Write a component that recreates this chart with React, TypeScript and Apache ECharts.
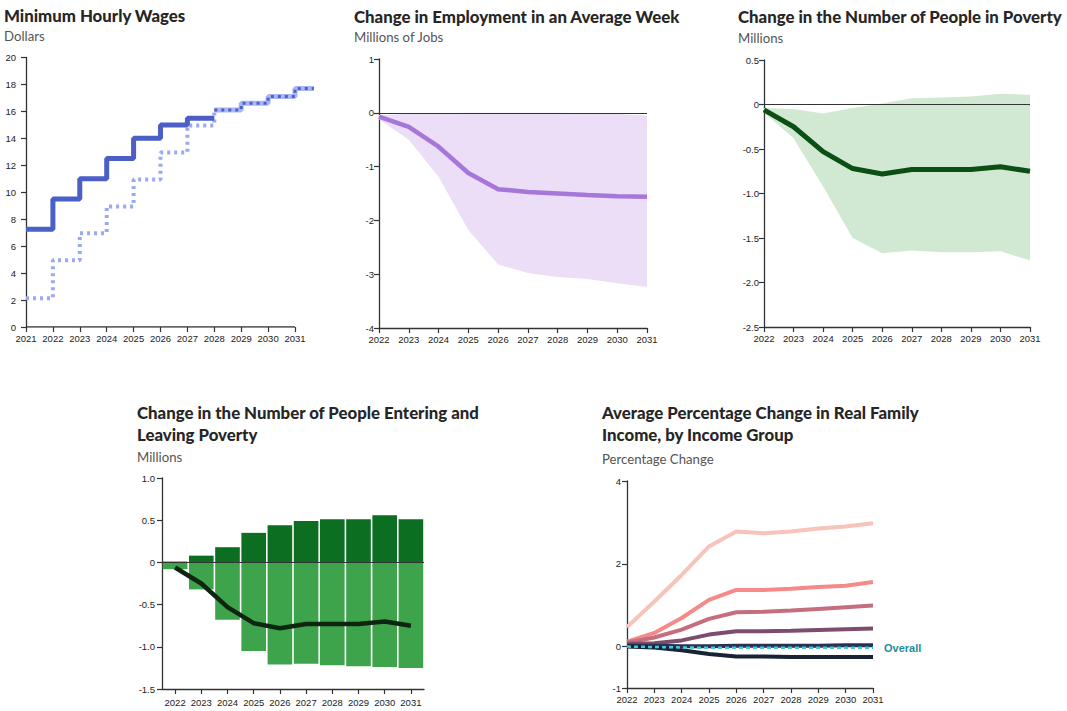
import React, { useEffect, useRef } from "react";
import * as echarts from "echarts";

// ---------- data ----------
const wageTicks = [2021, 2022, 2023, 2024, 2025, 2026, 2027, 2028, 2029, 2030, 2031];
const wageYears = [2021, 2022, 2023, 2024, 2025, 2026, 2027, 2028];
const wageFull = [7.25, 9.5, 11, 12.5, 14, 15, 15.5, 15.5];
const wageTipped = [2.13, 4.95, 6.95, 8.95, 10.95, 12.95, 14.95, 16.1];
const projYears = [2028, 2029, 2030, 2031, 2031.7];
const projWage = [16.1, 16.6, 17.1, 17.7, 17.7];
const wageAxisEnds = [2021, 2031];

const years = ["2022", "2023", "2024", "2025", "2026", "2027", "2028", "2029", "2030", "2031"];

const empLine = [-0.07, -0.26, -0.63, -1.12, -1.42, -1.47, -1.5, -1.53, -1.55, -1.56];
const empLow = [-0.12, -0.5, -1.19, -2.18, -2.82, -2.98, -3.05, -3.09, -3.17, -3.24];
const empHigh = [-0.04, -0.02, -0.01, 0, 0, 0, 0, -0.01, -0.02, -0.05];

const povLine = [-0.06, -0.25, -0.53, -0.72, -0.78, -0.73, -0.73, -0.73, -0.7, -0.75];
const povLow = [-0.09, -0.38, -0.92, -1.5, -1.67, -1.64, -1.66, -1.66, -1.65, -1.75];
const povHigh = [-0.04, -0.05, -0.1, -0.04, 0.01, 0.07, 0.08, 0.09, 0.12, 0.11];

const entering = [0.01, 0.08, 0.18, 0.35, 0.44, 0.49, 0.51, 0.51, 0.56, 0.51];
const leaving = [-0.08, -0.32, -0.68, -1.05, -1.21, -1.2, -1.22, -1.23, -1.24, -1.25];
const netPoverty = [-0.06, -0.25, -0.53, -0.72, -0.78, -0.73, -0.73, -0.73, -0.7, -0.75];

const incGroup1 = [0.47, 1.09, 1.73, 2.42, 2.78, 2.74, 2.78, 2.85, 2.9, 2.98];
const incGroup2 = [0.12, 0.33, 0.69, 1.13, 1.37, 1.37, 1.4, 1.44, 1.47, 1.56];
const incGroup3 = [0.1, 0.22, 0.41, 0.67, 0.83, 0.84, 0.87, 0.91, 0.95, 0.99];
const incGroup4 = [0.06, 0.08, 0.15, 0.29, 0.37, 0.37, 0.38, 0.4, 0.42, 0.44];
const incGroup5 = [0.02, 0.02, 0.01, 0.01, 0.02, 0.02, 0.02, 0.02, 0.03, 0.03];
const incOverall = [0.0, -0.01, -0.02, -0.03, -0.03, -0.03, -0.03, -0.03, -0.03, -0.03];
const incGroup6 = [0.0, -0.02, -0.09, -0.18, -0.24, -0.24, -0.25, -0.25, -0.25, -0.25];

// ---------- styles ----------
const TITLE_FONT = "Lato, 'Noto Sans', sans-serif";
const TICK_FONT = "'Liberation Sans', Arial, sans-serif";
const AXIS_COLOR = "#333";

const zip = (xs: number[], ys: number[]) => xs.map((x, i) => [x, ys[i]]);
const diff = (a: number[], b: number[]) => a.map((v, i) => +(v - b[i]).toFixed(3));

function axisBase(margin: number) {
  return {
    axisLine: { show: true, onZero: false, lineStyle: { color: AXIS_COLOR, width: 1.3 } },
    axisTick: { show: true, length: 5, lineStyle: { color: AXIS_COLOR, width: 1.2 } },
    splitLine: { show: false },
    axisLabel: { fontSize: 9.5, color: "#222", fontFamily: TICK_FONT, margin, interval: 0 },
  };
}

const fmt1 = (v: number) => (v === 0 ? "0" : v.toFixed(1));

function titleItem(text: string, left: number, top: number, sub = false) {
  return {
    text,
    left,
    top,
    padding: 0,
    textStyle: sub
      ? { fontFamily: TITLE_FONT, fontSize: 13.2, fontWeight: "normal", color: "#555" }
      : { fontFamily: TITLE_FONT, fontSize: 16.8, fontWeight: 900, color: "#262626", lineHeight: 21.5 },
  };
}

function bandSeries(idx: number, low: number[], high: number[], color: string, stack: string) {
  return [
    {
      type: "line",
      xAxisIndex: idx,
      yAxisIndex: idx,
      data: low,
      stack,
      stackStrategy: "all",
      symbol: "none",
      lineStyle: { opacity: 0 },
      silent: true,
    },
    {
      type: "line",
      xAxisIndex: idx,
      yAxisIndex: idx,
      data: diff(high, low),
      stack,
      stackStrategy: "all",
      symbol: "none",
      lineStyle: { opacity: 0 },
      areaStyle: { color, opacity: 1 },
      silent: true,
    },
  ];
}

const zeroLine = {
  silent: true,
  symbol: "none",
  label: { show: false },
  lineStyle: { color: "#333", width: 1.2, type: "solid" },
  data: [{ yAxis: 0 }],
};

function buildOption() {
  const wageXMax = projYears[projYears.length - 1];
  const pxPerYear = 26.9;
  const grids = [
    { left: 26, top: 57.5, width: (wageXMax - 2021) * pxPerYear, height: 269.5 },
    { left: 379, top: 59, width: 268, height: 269 },
    { left: 764, top: 60, width: 266, height: 267 },
    { left: 162, top: 478, width: 262, height: 211 },
    { left: 627, top: 481, width: 246, height: 207 },
  ];

  const b6 = axisBase(6);
  const xAxes: any[] = [
    {
      ...b6, gridIndex: 0, type: "value", min: 2021, max: wageXMax,
      axisLine: { show: false },
      axisTick: { ...b6.axisTick, customValues: wageTicks },
      axisLabel: { ...b6.axisLabel, customValues: wageTicks, formatter: (v: number) => String(v) },
    },
    { ...b6, gridIndex: 1, type: "category", data: years, boundaryGap: false },
    { ...b6, gridIndex: 2, type: "category", data: years, boundaryGap: false },
    { ...axisBase(8), gridIndex: 3, type: "category", data: years, boundaryGap: true,
      axisTick: { ...axisBase(8).axisTick, alignWithLabel: true } },
    { ...b6, gridIndex: 4, type: "category", data: years, boundaryGap: false },
  ];

  const yAxes: any[] = [
    { ...axisBase(10), gridIndex: 0, type: "value", min: 0, max: 20, interval: 2 },
    { ...axisBase(5), gridIndex: 1, type: "value", min: -4, max: 1, interval: 1 },
    { ...axisBase(5), gridIndex: 2, type: "value", min: -2.5, max: 0.5, interval: 0.5,
      axisLabel: { ...axisBase(5).axisLabel, formatter: fmt1 } },
    { ...axisBase(7), gridIndex: 3, type: "value", min: -1.5, max: 1, interval: 0.5,
      axisLabel: { ...axisBase(7).axisLabel, formatter: fmt1 } },
    { ...b6, gridIndex: 4, type: "value", min: -1, max: 4,
      axisTick: { ...b6.axisTick, customValues: [-1, 0, 2, 4] },
      axisLabel: { ...b6.axisLabel, customValues: [-1, 0, 2, 4] } },
  ];

  const incLine = (data: number[], color: string, z: number) => ({
    type: "line",
    xAxisIndex: 4,
    yAxisIndex: 4,
    data,
    symbol: "none",
    z,
    lineStyle: { color, width: 4 },
  });

  const series: any[] = [
    // chart 1: x-axis baseline (axis runs 2021-2031 while data extends beyond)
    {
      type: "line", xAxisIndex: 0, yAxisIndex: 0, symbol: "none", silent: true, z: 1,
      data: wageAxisEnds.map((x) => [x, 0]),
      lineStyle: { color: AXIS_COLOR, width: 1.3 },
    },
    {
      type: "line", xAxisIndex: 0, yAxisIndex: 0, step: "end", symbol: "none",
      data: zip(wageYears, wageTipped), z: 2,
      lineStyle: { color: "#9aa9f2", width: 4, type: [3, 4] },
    },
    {
      type: "line", xAxisIndex: 0, yAxisIndex: 0, step: "end", symbol: "none",
      data: zip(projYears, projWage), z: 2,
      lineStyle: { color: "#a9b6f5", width: 5 },
    },
    {
      type: "line", xAxisIndex: 0, yAxisIndex: 0, step: "end", symbol: "none",
      data: zip(projYears, projWage), z: 3,
      lineStyle: { color: "#4d62c8", width: 3, type: [3, 4] },
    },
    {
      type: "line", xAxisIndex: 0, yAxisIndex: 0, step: "end", symbol: "none",
      data: zip(wageYears, wageFull), z: 4,
      lineStyle: { color: "#4b5fc6", width: 5 },
    },
    // chart 2
    ...bandSeries(1, empLow, empHigh, "#ebdef6", "emp"),
    {
      type: "line", xAxisIndex: 1, yAxisIndex: 1, data: empLine, symbol: "none", z: 5,
      lineStyle: { color: "#a676d9", width: 4.5 },
      markLine: zeroLine,
    },
    // chart 3
    ...bandSeries(2, povLow, povHigh, "#d1e9d2", "pov"),
    {
      type: "line", xAxisIndex: 2, yAxisIndex: 2, data: povLine, symbol: "none", z: 5,
      lineStyle: { color: "#0b4f14", width: 5 },
      markLine: zeroLine,
    },
    // chart 4
    {
      type: "bar", xAxisIndex: 3, yAxisIndex: 3, data: entering, stack: "flow",
      barCategoryGap: "6%", itemStyle: { color: "#0b6e20" },
    },
    {
      type: "bar", xAxisIndex: 3, yAxisIndex: 3, data: leaving, stack: "flow",
      barCategoryGap: "6%", itemStyle: { color: "#3ea44c" },
      markLine: zeroLine,
    },
    {
      type: "line", xAxisIndex: 3, yAxisIndex: 3, data: netPoverty, symbol: "none", z: 6,
      lineStyle: { color: "#0e2611", width: 4.5 },
    },
    // chart 5
    incLine(incGroup1, "#f8c3bb", 3),
    incLine(incGroup2, "#f58a89", 3),
    incLine(incGroup3, "#c56e7e", 3),
    incLine(incGroup4, "#7c4d6d", 3),
    incLine(incGroup5, "#2c3052", 3),
    incLine(incGroup6, "#162436", 3),
    {
      type: "line", xAxisIndex: 4, yAxisIndex: 4, data: incOverall, symbol: "none", z: 5,
      lineStyle: { color: "#3fcbdc", width: 2.5, type: [4, 3] },
      endLabel: {
        show: true, formatter: "Overall", color: "#1f8d9b", fontWeight: "bold",
        fontSize: 11, fontFamily: TICK_FONT, distance: 11,
      },
    },
  ];

  return {
    animation: false,
    backgroundColor: "#fff",
    title: [
      titleItem("Minimum Hourly Wages", 4, 4.5),
      titleItem("Dollars", 4, 29.5, true),
      titleItem("Change in Employment in an Average Week", 354, 5.5),
      titleItem("Millions of Jobs", 354, 30.5, true),
      titleItem("Change in the Number of People in Poverty", 738, 6),
      titleItem("Millions", 738, 31, true),
      titleItem("Change in the Number of People Entering and\nLeaving Poverty", 137, 402),
      titleItem("Millions", 137, 450.5, true),
      titleItem("Average Percentage Change in Real Family\nIncome, by Income Group", 602, 402),
      titleItem("Percentage Change", 602, 452, true),
    ],
    grid: grids,
    xAxis: xAxes,
    yAxis: yAxes,
    series,
  };
}

export default function App() {
  const ref = useRef<HTMLDivElement>(null);
  useEffect(() => {
    if (!ref.current) return;
    const chart = echarts.init(ref.current, undefined, { renderer: "svg" });
    chart.setOption(buildOption() as any);
    return () => chart.dispose();
  }, []);
  return (
    <div
      ref={ref}
      style={{ position: "absolute", left: 0, top: 0, width: 1067, height: 711, background: "#fff" }}
    />
  );
}
